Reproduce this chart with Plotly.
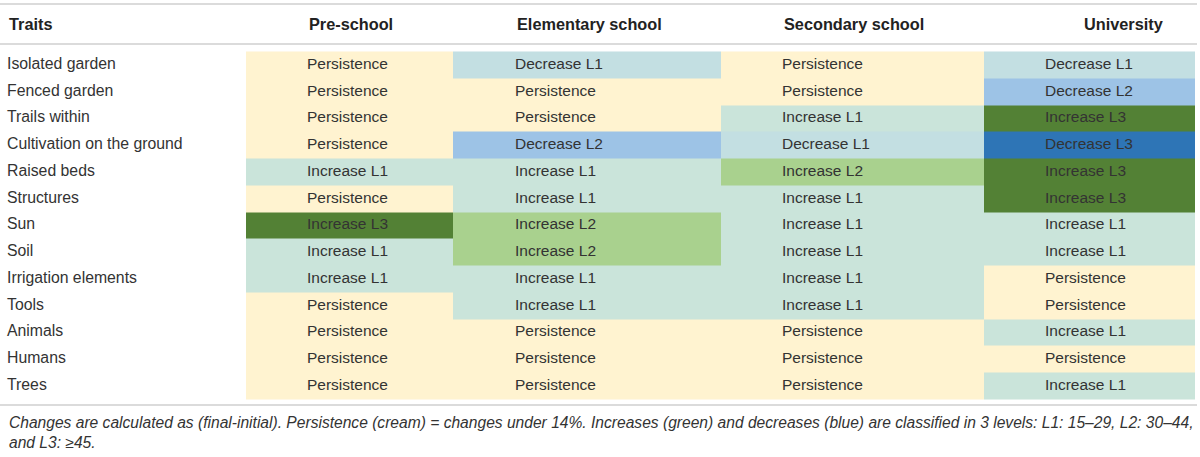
import plotly.graph_objects as go

# ---------------- data ----------------
traits = [
    "Isolated garden", "Fenced garden", "Trails within", "Cultivation on the ground",
    "Raised beds", "Structures", "Sun", "Soil", "Irrigation elements", "Tools",
    "Animals", "Humans", "Trees",
]
columns = ["Pre-school", "Elementary school", "Secondary school", "University"]

pre_school = [
    "Persistence", "Persistence", "Persistence", "Persistence", "Increase L1",
    "Persistence", "Increase L3", "Increase L1", "Increase L1", "Persistence",
    "Persistence", "Persistence", "Persistence",
]
elementary = [
    "Decrease L1", "Persistence", "Persistence", "Decrease L2", "Increase L1",
    "Increase L1", "Increase L2", "Increase L2", "Increase L1", "Increase L1",
    "Persistence", "Persistence", "Persistence",
]
secondary = [
    "Persistence", "Persistence", "Increase L1", "Decrease L1", "Increase L2",
    "Increase L1", "Increase L1", "Increase L1", "Increase L1", "Increase L1",
    "Persistence", "Persistence", "Persistence",
]
university = [
    "Decrease L1", "Decrease L2", "Increase L3", "Decrease L3", "Increase L3",
    "Increase L3", "Increase L1", "Increase L1", "Persistence", "Persistence",
    "Increase L1", "Persistence", "Increase L1",
]

levels = ["Decrease L3", "Decrease L2", "Decrease L1", "Persistence",
          "Increase L1", "Increase L2", "Increase L3"]
level_colors = ["#2E75B6", "#9DC3E6", "#C3DFE2", "#FFF3D0",
                "#CAE4DA", "#A9D18E", "#538135"]

footnote = ("Changes are calculated as (final-initial). Persistence (cream) = changes under 14%. "
            "Increases (green) and decreases (blue) are classified in 3 levels: L1: 15–29, L2: 30–44,"
            "<br>and L3: ≥45.")

# ---------------- layout constants ----------------
W, H = 1200, 457
col_edges = [246, 453, 721, 984, 1195]
row_top, row_h = 51.5, 26.75
text_x = [307, 515, 782, 1045]
header_x = [307, 515, 782, 1082]
label_x = 7
header_y = 24
line_ys = [4, 44, 405]
FONT = "Liberation Sans, Arial, sans-serif"
TXT = "#333333"

series = [pre_school, elementary, secondary, university]
n_rows = len(traits)
row_edges = [row_top + i * row_h for i in range(n_rows + 1)]
row_centers = [row_top + (i + 0.5) * row_h for i in range(n_rows)]

z = [[levels.index(s[i]) for s in series] for i in range(n_rows)]
n = len(levels)
colorscale = []
for i, c in enumerate(level_colors):
    colorscale.append([i / n, c])
    colorscale.append([(i + 1) / n, c])

fig = go.Figure()
fig.add_trace(go.Heatmap(
    x=col_edges, y=row_edges, z=z, colorscale=colorscale,
    zmin=-0.5, zmax=n - 0.5, showscale=False, hoverinfo="skip",
))

# cell texts
for j, s in enumerate(series):
    fig.add_trace(go.Scatter(
        x=[text_x[j]] * n_rows, y=row_centers, mode="text", text=s,
        textposition="middle right", hoverinfo="skip", showlegend=False,
        textfont=dict(family=FONT, size=15.5, color=TXT),
    ))

# trait labels
fig.add_trace(go.Scatter(
    x=[label_x] * n_rows, y=row_centers, mode="text", text=traits,
    textposition="middle right", hoverinfo="skip", showlegend=False,
    textfont=dict(family=FONT, size=15.8, color=TXT),
))

annotations = [dict(x=label_x, y=header_y, text="<b>Traits</b>", showarrow=False,
                    xanchor="left", yanchor="middle", xref="x", yref="y",
                    font=dict(family=FONT, size=16.3, color="#222222"))]
for j, c in enumerate(columns):
    annotations.append(dict(x=header_x[j], y=header_y, text="<b>" + c + "</b>",
                            showarrow=False, xanchor="left", yanchor="middle",
                            xref="x", yref="y",
                            font=dict(family=FONT, size=16.3, color="#222222")))
annotations.append(dict(x=label_x, y=412, text="<i>" + footnote + "</i>", showarrow=False,
                        xanchor="left", yanchor="top", align="left", xref="x", yref="y",
                        font=dict(family=FONT, size=15.6, color=TXT)))

shapes = [dict(type="line", x0=0, x1=1197, y0=y, y1=y, xref="x", yref="y",
               line=dict(color="#CFCFCF", width=1.5)) for y in line_ys]

fig.update_layout(
    width=W, height=H, margin=dict(l=0, r=0, t=0, b=0),
    paper_bgcolor="white", plot_bgcolor="white",
    xaxis=dict(range=[0, W], visible=False, fixedrange=True),
    yaxis=dict(range=[H, 0], visible=False, fixedrange=True),
    annotations=annotations, shapes=shapes, showlegend=False,
)
fig.write_html("out.html", config={"displayModeBar": False},
               post_script="document.body.style.margin='0';document.body.style.overflow='hidden';")
